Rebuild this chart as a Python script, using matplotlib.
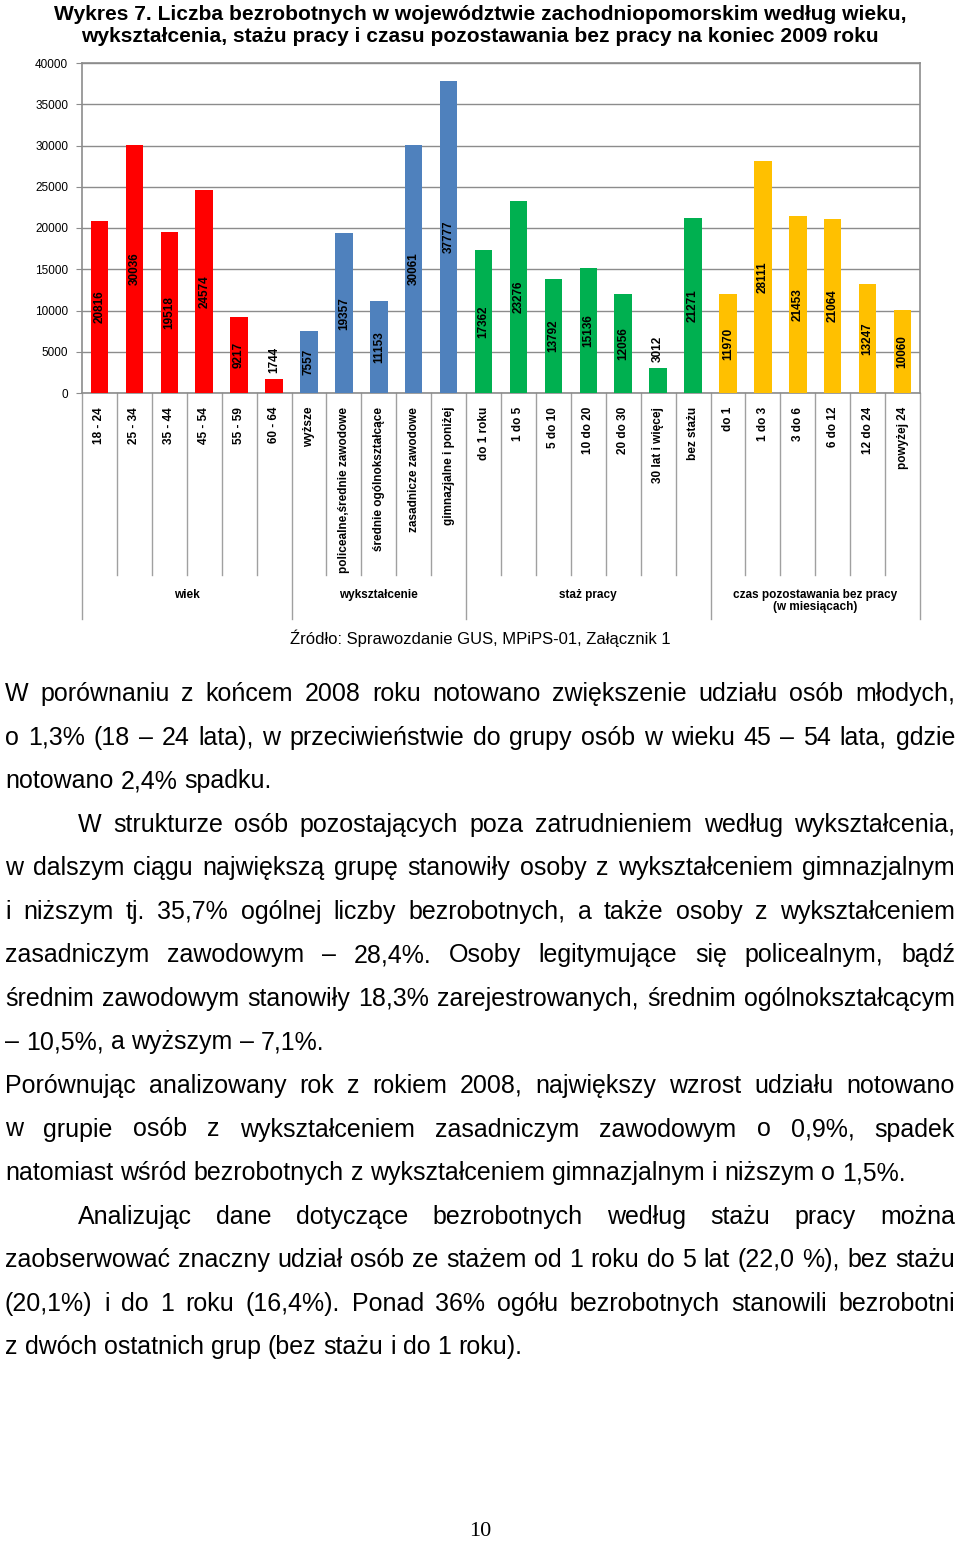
import matplotlib
matplotlib.use("Agg")
import matplotlib.pyplot as plt
from matplotlib import font_manager

W, H = 960, 1541

# chart data
categories = ["18 - 24", "25 - 34", "35 - 44", "45 - 54", "55 - 59", "60 - 64",
              "wyższe", "policealne,średnie zawodowe", "średnie ogólnokształcące",
              "zasadnicze zawodowe", "gimnazjalne i poniżej",
              "do 1 roku", "1 do 5", "5 do 10", "10 do 20", "20 do 30",
              "30 lat i więcej", "bez stażu",
              "do 1", "1 do 3", "3 do 6", "6 do 12", "12 do 24", "powyżej 24"]
values = [20816, 30036, 19518, 24574, 9217, 1744,
          7557, 19357, 11153, 30061, 37777,
          17362, 23276, 13792, 15136, 12056, 3012, 21271,
          11970, 28111, 21453, 21064, 13247, 10060]
groups = ["wiek", "wykształcenie", "staż pracy",
          "czas pozostawania bez pracy\n(w miesiącach)"]
group_sizes = [6, 5, 7, 6]
group_colors = ["#FF0000", "#4F81BD", "#00B050", "#FFC000"]
yticks = [0, 5000, 10000, 15000, 20000, 25000, 30000, 35000, 40000]

title = ("Wykres 7. Liczba bezrobotnych w województwie zachodniopomorskim według wieku,\n"
         "wykształcenia, stażu pracy i czasu pozostawania bez pracy na koniec 2009 roku")
source = "Źródło: Sprawozdanie GUS, MPiPS-01, Załącznik 1"

# page text: (line, justified, indent)
paragraph_lines = [
    ("W porównaniu z końcem 2008 roku notowano zwiększenie udziału osób młodych,", True, 0),
    ("o 1,3% (18 – 24 lata), w przeciwieństwie do grupy osób w wieku 45 – 54 lata, gdzie", True, 0),
    ("notowano 2,4% spadku.", False, 0),
    ("W strukturze osób pozostających poza zatrudnieniem według wykształcenia,", True, 1),
    ("w dalszym ciągu największą grupę stanowiły osoby z wykształceniem gimnazjalnym", True, 0),
    ("i niższym tj. 35,7% ogólnej liczby bezrobotnych, a także osoby z wykształceniem", True, 0),
    ("zasadniczym zawodowym – 28,4%. Osoby legitymujące się policealnym, bądź", True, 0),
    ("średnim zawodowym stanowiły 18,3% zarejestrowanych, średnim ogólnokształcącym", True, 0),
    ("– 10,5%, a wyższym – 7,1%.", False, 0),
    ("Porównując analizowany rok z rokiem 2008, największy wzrost udziału notowano", True, 0),
    ("w grupie osób z wykształceniem zasadniczym zawodowym o 0,9%, spadek", True, 0),
    ("natomiast wśród bezrobotnych z wykształceniem gimnazjalnym i niższym o 1,5%.", False, 0),
    ("Analizując dane dotyczące bezrobotnych według stażu pracy można", True, 1),
    ("zaobserwować znaczny udział osób ze stażem od 1 roku do 5 lat (22,0 %), bez stażu", True, 0),
    ("(20,1%) i do 1 roku (16,4%). Ponad 36% ogółu bezrobotnych stanowili bezrobotni", True, 0),
    ("z dwóch ostatnich grup (bez stażu i do 1 roku).", False, 0),
]
page_number = "10"

available = {f.name for f in font_manager.fontManager.ttflist}
SANS = "Liberation Sans" if "Liberation Sans" in available else "DejaVu Sans"
NARROW = "Liberation Sans Narrow" if "Liberation Sans Narrow" in available else SANS
SERIF = "Liberation Serif" if "Liberation Serif" in available else "DejaVu Serif"
plt.rcParams["font.family"] = SANS

fig = plt.figure(figsize=(W / 100, H / 100), dpi=100)
fig.patch.set_facecolor("white")

def px(x, y):
    return x / W, 1 - y / H

# title (no narrow face installed, so a slightly smaller size keeps the width)
fig.text(*px(480, 25), title, ha="center", va="center",
         fontsize=16 if NARROW != SANS else 15.1,
         fontweight="bold", family=NARROW, linespacing=1.2)

# chart axes
ax_left, ax_right, ax_top, ax_bottom = 82, 920, 63, 393
ax = fig.add_axes([ax_left / W, 1 - ax_bottom / H,
                   (ax_right - ax_left) / W, (ax_bottom - ax_top) / H])

colors = []
for c, n in zip(group_colors, group_sizes):
    colors += [c] * n
x = list(range(len(values)))
ax.bar(x, values, width=0.5, color=colors, zorder=3)

ax.set_xlim(-0.5, len(values) - 0.5)
ax.set_ylim(0, 40000)
ax.set_yticks(yticks)
ax.set_yticklabels([str(v) for v in yticks], fontsize=8.5)
ax.yaxis.grid(True, color="#8C8C8C", lw=1, zorder=0)
ax.tick_params(axis="y", length=4, color="#8C8C8C", pad=6)
for s in ax.spines.values():
    s.set_color("#8C8C8C")
    s.set_linewidth(1.2)

ax.set_xticks(x)
ax.set_xticklabels(categories, rotation=90, fontsize=8.5, fontweight="bold", va="top")
ax.tick_params(axis="x", length=0, pad=10)

# value labels
for xi, v in zip(x, values):
    if v < 5000:
        ax.text(xi, v + 700, str(v), rotation=90, ha="center", va="bottom",
                fontsize=8.5, fontweight="bold", zorder=4)
    else:
        ax.text(xi, v / 2, str(v), rotation=90, ha="center", va="center",
                fontsize=8.5, fontweight="bold", zorder=4)

# category separators below the axis
tr = ax.get_xaxis_transform()
inner_end = -(575 - ax_bottom) / (ax_bottom - ax_top)
outer_end = -(619 - ax_bottom) / (ax_bottom - ax_top)
bounds = [-0.5]
for n in group_sizes:
    bounds.append(bounds[-1] + n)
for i in range(len(values) + 1):
    xs = i - 0.5
    yend = outer_end if xs in bounds else inner_end
    ax.plot([xs, xs], [0, yend], transform=tr, color="#A0A0A0", lw=1,
            clip_on=False)

# group labels
for g, lo, hi in zip(groups, bounds[:-1], bounds[1:]):
    ax.text((lo + hi) / 2, -(589 - ax_bottom) / (ax_bottom - ax_top), g,
            transform=tr, ha="center", va="top", fontsize=8.5,
            fontweight="bold", linespacing=1.05)

fig.text(*px(480, 638), source, ha="center", va="center", fontsize=12)

# body text, justified line by line
renderer = fig.canvas.get_renderer()
FS = 18
left, right, indent = 5, 955, 73
probe = fig.text(0, 0, "a a", fontsize=FS)
probe2 = fig.text(0, 0, "aa", fontsize=FS)
space_w = (probe.get_window_extent(renderer).width
           - probe2.get_window_extent(renderer).width)
probe.remove()
probe2.remove()

for i, (line, justify, ind) in enumerate(paragraph_lines):
    baseline = 701 + 43.55 * i
    words = line.split(" ")
    texts = [fig.text(0, 0, w, fontsize=FS, va="baseline", ha="left") for w in words]
    widths = [t.get_window_extent(renderer).width for t in texts]
    x0 = left + (indent if ind else 0)
    if justify and len(words) > 1:
        gap = (right - x0 - sum(widths)) / (len(words) - 1)
    else:
        gap = space_w
    xpos = x0
    for t, w in zip(texts, widths):
        t.set_position(px(xpos, baseline))
        xpos += w + gap

fig.text(*px(480, 1531), page_number, ha="center", va="center",
         fontsize=16, family=SERIF)

fig.savefig("out.png", dpi=100, facecolor="white")
